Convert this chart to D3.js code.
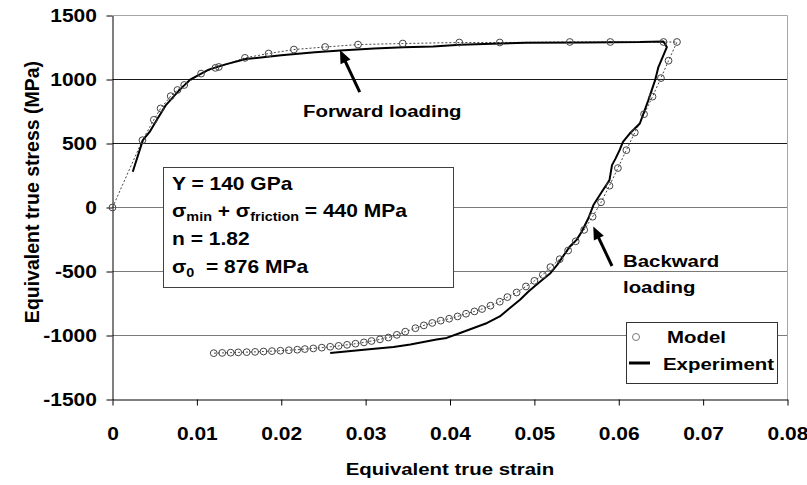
<!DOCTYPE html>
<meta charset="utf-8">
<style>
  body { margin: 0; background: #fff; }
  text { font-family: "Liberation Sans", Arial, sans-serif; font-weight: bold; fill: #000; }
</style>
<script src="https://d3js.org/d3.v7.min.js"></script>
<body>
</body>
<script>
// axis ticks
var strainTicks = [0, 0.01, 0.02, 0.03, 0.04, 0.05, 0.06, 0.07, 0.08];
var stressTicks = [-1500, -1000, -500, 0, 500, 1000, 1500];

// model (circles + dashed line), forward then backward
var modelStrain = [0, 0.00355, 0.0049, 0.0057, 0.0069, 0.0077, 0.0085, 0.0105, 0.0122, 0.0126,
  0.0157, 0.0185, 0.0215, 0.0252, 0.0291, 0.0344, 0.0411, 0.0459, 0.0542, 0.0590,
  0.0653, 0.0669,
  0.0659, 0.0650, 0.0640, 0.0630, 0.0619, 0.0609, 0.0599, 0.0589, 0.0579, 0.0569,
  0.0559, 0.0549, 0.0540, 0.0530, 0.0519, 0.0510, 0.0500, 0.0490, 0.0479, 0.0468,
  0.0459, 0.0448, 0.0438, 0.0429, 0.0419, 0.0409, 0.0399, 0.0389, 0.0379, 0.0369,
  0.0359, 0.0347, 0.0337, 0.0327, 0.0317, 0.0307, 0.0298, 0.0288, 0.0278, 0.0268,
  0.0258, 0.0248, 0.0238, 0.0228, 0.0219, 0.0209, 0.0199, 0.0189, 0.0179, 0.0169,
  0.0159, 0.0149, 0.0140, 0.0130, 0.0120];
var modelStress = [0, 526, 685, 774, 870, 918, 957, 1046, 1091, 1098,
  1169, 1203, 1234, 1254, 1273, 1281, 1289, 1289, 1293, 1293,
  1293, 1293,
  1147, 1011, 866, 729, 586, 448, 308, 170, 41, -72,
  -175, -264, -336, -404, -466, -526, -573, -617, -664, -700,
  -736, -767, -793, -812, -830, -851, -869, -884, -902, -921,
  -943, -970, -995, -1016, -1030, -1043, -1054, -1064, -1073, -1081,
  -1088, -1095, -1101, -1106, -1111, -1115, -1119, -1122, -1125, -1128,
  -1130, -1132, -1134, -1136, -1138];

// experiment (solid line)
var expStrain = [0.0024, 0.0036, 0.0044, 0.0051, 0.0063, 0.0079, 0.0092, 0.0114, 0.0134, 0.0158,
  0.0200, 0.0240, 0.0270, 0.0310, 0.0345, 0.0380, 0.0412, 0.0450, 0.0491, 0.0560,
  0.0625, 0.0653, 0.0657, 0.0651, 0.0647, 0.0643, 0.0635, 0.0625, 0.0613, 0.0605,
  0.0601, 0.0596, 0.0592, 0.0589, 0.0580, 0.0570, 0.0564, 0.0556, 0.0550, 0.0542,
  0.0527, 0.0519, 0.0507, 0.0493, 0.0483, 0.0471, 0.0459, 0.0444, 0.0428, 0.0412,
  0.0396, 0.0384, 0.0353, 0.0333, 0.0301, 0.0258];
var expStress = [279, 526, 590, 668, 798, 915, 999, 1077, 1118, 1160,
  1190, 1212, 1227, 1242, 1252, 1258, 1271, 1280, 1287, 1290,
  1292, 1297, 1253, 1160, 1097, 993, 837, 656, 578, 513,
  448, 380, 331, 214, 123, 19, -84, -189, -253, -305,
  -448, -513, -578, -656, -721, -785, -851, -902, -941, -980,
  -1019, -1032, -1071, -1089, -1110, -1136];

var width = 807, height = 485;
var plotLeft = 112.5, plotRight = 787.5, plotTop = 15.5, plotBottom = 399.5;
var sx = 1.2; // horizontal stretch of the original lettering

var svg = d3.select("body").append("svg")
    .attr("width", width)
    .attr("height", height);

var x = d3.scaleLinear().domain([0, 0.08]).range([plotLeft, plotRight]);
var y = d3.scaleLinear().domain([-1500, 1500]).range([plotBottom, plotTop]);

// gridlines
svg.selectAll(".grid").data(stressTicks.filter(function(d) { return d > -1500 && d < 1500; }))
  .enter().append("line")
    .attr("class", "grid")
    .attr("x1", plotLeft).attr("x2", plotRight)
    .attr("y1", function(d) { return y(d); })
    .attr("y2", function(d) { return y(d); })
    .attr("stroke", function(d) { return d > 0 ? "#1a1a1a" : "#7a7a7a"; })
    .attr("stroke-width", 1);

// plot area border (top / right)
svg.append("path")
    .attr("d", "M" + plotLeft + "," + plotTop + "H" + plotRight + "V" + plotBottom)
    .attr("fill", "none").attr("stroke", "#a6a6a6");

// axes
var yAxis = d3.axisLeft(y).tickValues(stressTicks).tickSize(6).tickSizeOuter(0).tickPadding(7)
    .tickFormat(function(d) { return String(d); });
var xAxis = d3.axisBottom(x).tickValues(strainTicks).tickSize(6).tickSizeOuter(0).tickPadding(22)
    .tickFormat(function(d) { return d === 0 ? "0" : d3.format(".2f")(d); });

var gy = svg.append("g").attr("transform", "translate(" + plotLeft + ",0)").call(yAxis);
var gx = svg.append("g").attr("transform", "translate(0," + plotBottom + ")").call(xAxis);
[gx, gy].forEach(function(g) {
  g.attr("font-family", null).attr("font-size", null);
  g.select(".domain").attr("stroke", "#000");
  g.selectAll(".tick line").attr("stroke", "#000");
  g.selectAll(".tick text")
    .style("font-size", "17.5px")
    .attr("transform", "scale(" + sx + ",1)");
});

// axis titles
svg.append("text")
    .attr("transform", "translate(" + ((plotLeft + plotRight) / 2) + ",475) scale(" + sx + ",1)")
    .attr("text-anchor", "middle")
    .style("font-size", "17px")
    .text("Equivalent true strain");
svg.append("text")
    .attr("transform", "translate(39,192) rotate(-90)")
    .attr("text-anchor", "middle")
    .style("font-size", "19.5px")
    .text("Equivalent true stress (MPa)");

// model series
var modelData = modelStrain.map(function(d, i) { return [d, modelStress[i]]; });
var expData = expStrain.map(function(d, i) { return [d, expStress[i]]; });

var line = d3.line()
    .x(function(d) { return x(d[0]); })
    .y(function(d) { return y(d[1]); });

svg.append("path")
    .datum(modelData)
    .attr("d", line)
    .attr("fill", "none")
    .attr("stroke", "#444")
    .attr("stroke-width", 1)
    .attr("stroke-dasharray", "2,2");

svg.append("path")
    .datum(expData)
    .attr("d", line)
    .attr("fill", "none")
    .attr("stroke", "#000")
    .attr("stroke-width", 2)
    .attr("stroke-linejoin", "round");

svg.selectAll(".pt").data(modelData).enter().append("circle")
    .attr("class", "pt")
    .attr("cx", function(d) { return x(d[0]); })
    .attr("cy", function(d) { return y(d[1]); })
    .attr("r", 3.4)
    .attr("fill", "none")
    .attr("stroke", "#444")
    .attr("stroke-width", 1);

// parameter box
svg.append("rect")
    .attr("x", 163.5).attr("y", 167.5).attr("width", 290).attr("height", 120)
    .attr("fill", "#fff").attr("stroke", "#404040");

var box = svg.append("g").attr("transform", "translate(172,0) scale(" + sx + ",1)")
    .style("font-size", "17.5px");
box.append("text").attr("y", 190).text("Y = 140 GPa");
var l2 = box.append("text").attr("y", 217.5);
l2.append("tspan").text("σ");
l2.append("tspan").attr("dy", 4).style("font-size", "12px").text("min");
l2.append("tspan").attr("dy", -4).text(" + σ");
l2.append("tspan").attr("dy", 4).style("font-size", "12px").text("friction");
l2.append("tspan").attr("dy", -4).text(" = 440 MPa");
box.append("text").attr("y", 245.5).text("n = 1.82");
var l4 = box.append("text").attr("y", 273.5);
l4.append("tspan").text("σ");
l4.append("tspan").attr("dy", 4).style("font-size", "12px").text("0");
l4.append("tspan").attr("dy", -4).text("\u00a0\u00a0= 876 MPa");

// arrows and annotations
function arrow(from, to) {
  var x0 = x(from[0]), y0 = y(from[1]), x1 = x(to[0]), y1 = y(to[1]);
  var dx = x1 - x0, dy = y1 - y0, len = Math.sqrt(dx * dx + dy * dy);
  var ux = dx / len, uy = dy / len, hl = 13, hw = 5.5;
  var bx = x1 - ux * hl, by = y1 - uy * hl;
  svg.append("line")
    .attr("x1", x0).attr("y1", y0).attr("x2", bx + ux * 2).attr("y2", by + uy * 2)
    .attr("stroke", "#000").attr("stroke-width", 3);
  svg.append("path")
    .attr("d", "M" + x1 + "," + y1 + "L" + (bx - uy * hw) + "," + (by + ux * hw) +
      "L" + (bx + uy * hw) + "," + (by - ux * hw) + "Z")
    .attr("fill", "#000");
}
arrow([0.0293, 902], [0.02696, 1230]);
arrow([0.0592, -457], [0.05698, -148]);

function label(px, py, str) {
  svg.append("text")
    .attr("transform", "translate(" + px + "," + py + ") scale(" + sx + ",1)")
    .style("font-size", "17px")
    .text(str);
}
label(303, 116.5, "Forward loading");
label(623, 266.5, "Backward");
label(623, 293, "loading");

// legend
svg.append("rect")
    .attr("x", 626.5).attr("y", 322.5).attr("width", 151).attr("height", 61)
    .attr("fill", "#fff").attr("stroke", "#333");
svg.append("circle")
    .attr("cx", 636).attr("cy", 337).attr("r", 3.5)
    .attr("fill", "none").attr("stroke", "#777");
svg.append("line")
    .attr("x1", 629).attr("x2", 650).attr("y1", 363).attr("y2", 363)
    .attr("stroke", "#000").attr("stroke-width", 3);
label(667, 342.5, "Model");
label(663, 369.5, "Experiment");
</script>
